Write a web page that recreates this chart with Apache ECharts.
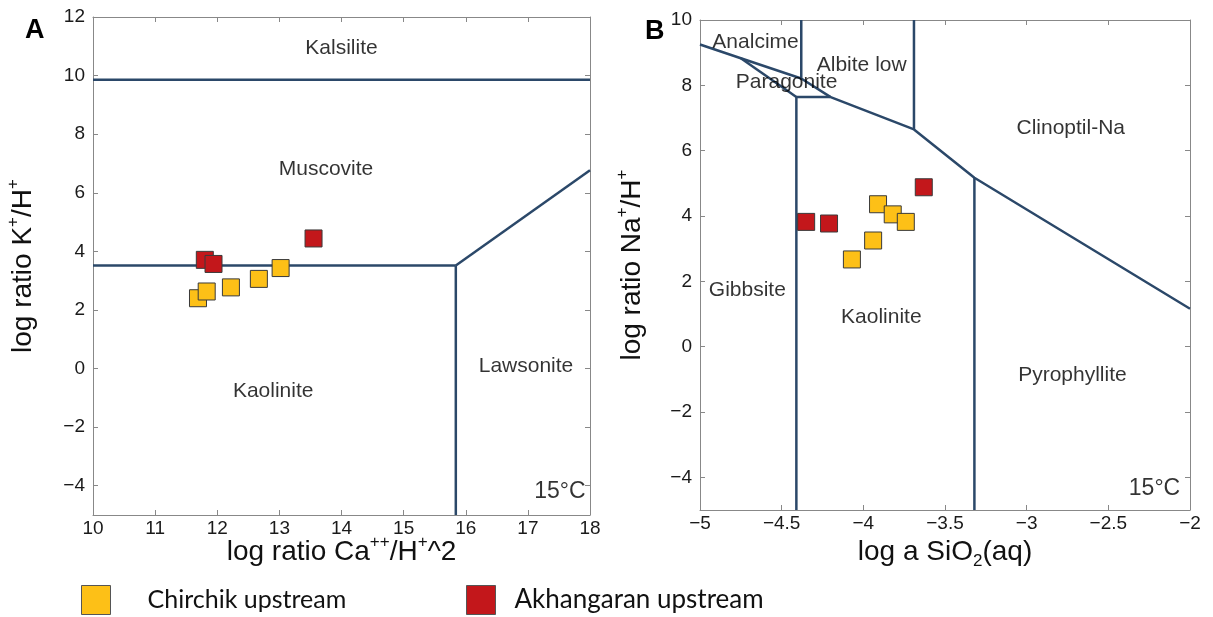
<!DOCTYPE html>
<html>
<head>
<meta charset="utf-8">
<script src="https://cdn.jsdelivr.net/npm/echarts@6/dist/echarts.min.js"></script>
<style>
  html, body { margin: 0; padding: 0; background: #fff; }
  #chart { width: 1213px; height: 617px; }
</style>
</head>
<body>
<div id="chart"></div>
<script>
// panel A: log K+/H+ against log Ca++/H+^2
const chirchikA = [[11.69, 2.40], [11.83, 2.63], [12.22, 2.77], [12.67, 3.06], [13.02, 3.43]];
const akhangaranA = [[11.80, 3.71], [11.94, 3.57], [13.55, 4.44]];
// panel B: log Na+/H+ against log a SiO2(aq)
const chirchikB = [[-4.07, 2.67], [-3.94, 3.25], [-3.91, 4.36], [-3.82, 4.05], [-3.74, 3.82]];
const akhangaranB = [[-4.35, 3.82], [-4.21, 3.77], [-3.63, 4.88]];

// stability field boundaries
const boundariesA = [
  [[10, 9.86], [18, 9.86]],
  [[10, 3.52], [15.84, 3.52]],
  [[15.84, 3.52], [15.84, -5]],
  [[15.84, 3.52], [18, 6.77]]
];
const boundariesB = [
  [[-5, 9.25], [-4.75, 8.83], [-4.38, 8.21]],
  [[-4.75, 8.83], [-4.41, 7.64]],
  [[-4.38, 10], [-4.38, 8.21], [-4.20, 7.64]],
  [[-4.41, -5], [-4.41, 7.64], [-4.20, 7.64], [-3.69, 6.65], [-3.32, 5.17], [-2, 1.16]],
  [[-3.69, 10], [-3.69, 6.65]],
  [[-3.32, 5.17], [-3.32, -5]]
];

const fieldNamesA = ['Kalsilite', 'Muscovite', 'Kaolinite', 'Lawsonite'];
const fieldPosA = [[14, 10.95], [13.75, 6.8], [12.9, -0.78], [16.97, 0.08]];
const fieldNamesB = ['Analcime', 'Albite low', 'Paragonite', 'Clinoptil-Na', 'Gibbsite', 'Kaolinite', 'Pyrophyllite'];
const fieldPosB = [[-4.66, 9.33], [-4.01, 8.62], [-4.47, 8.11], [-2.73, 6.68], [-4.71, 1.73], [-3.89, 0.89], [-2.72, -0.88]];

const xTicksA = [10, 11, 12, 13, 14, 15, 16, 17, 18];
const yTicksA = [-4, -2, 0, 2, 4, 6, 8, 10, 12];
const xTicksB = [-5, -4.5, -4, -3.5, -3, -2.5, -2];
const yTicksB = [-4, -2, 0, 2, 4, 6, 8, 10];

const seriesNames = ['Chirchik upstream', 'Akhangaran upstream'];
const colors = ['#FDC017', '#C3171B'];

const font = 'Liberation Sans';
const lineColor = '#2B4869';
const minus = v => String(v).replace('-', '\u2212');

const chart = echarts.init(document.getElementById('chart'));

function axis(kind, grid, min, max, ticks, pos, showLabel, name, gap) {
  const a = {
    type: 'value', gridIndex: grid, min: min, max: max, position: pos,
    splitLine: { show: false },
    axisLine: { show: true, onZero: false, lineStyle: { color: '#888', width: 1 } },
    axisTick: { show: true, inside: true, length: 5, customValues: ticks, lineStyle: { color: '#888' } },
    axisLabel: {
      show: showLabel, customValues: ticks, formatter: minus,
      color: '#1a1a1a', fontSize: 19, fontFamily: font, margin: kind === 'x' ? 4 : 8
    }
  };
  if (name) {
    a.name = name;
    a.nameLocation = 'middle';
    a.nameGap = gap;
    a.nameMoveOverlap = false;
    if (kind === 'y') a.nameRotate = 90;
    a.nameTextStyle = {
      rich: {
        n: { fontSize: 28, fontFamily: font, color: '#111', lineHeight: 36 },
        s: { fontSize: 17, fontFamily: font, color: '#111', lineHeight: 17, verticalAlign: 'top' },
        b: { fontSize: 17, fontFamily: font, color: '#111', lineHeight: 14, verticalAlign: 'bottom' }
      }
    };
  }
  return a;
}

function lineSeries(segs, x, y) {
  return segs.map(s => ({
    type: 'line', xAxisIndex: x, yAxisIndex: y, data: s, symbol: 'none', silent: true,
    lineStyle: { color: lineColor, width: 2.5 }, z: 2
  }));
}

function pointSeries(name, data, color, x, y) {
  return {
    type: 'scatter', name: name, xAxisIndex: x, yAxisIndex: y, data: data,
    symbol: 'rect', symbolSize: 17, z: 5,
    itemStyle: { color: color, borderColor: '#3a3a3a', borderWidth: 1, opacity: 1 }
  };
}

function labelSeries(names, pos, x, y, extra) {
  const data = names.map((n, i) => ({ name: n, value: pos[i] }));
  data.push(extra);
  return {
    type: 'scatter', xAxisIndex: x, yAxisIndex: y, data: data, symbolSize: 0, silent: true,
    label: { show: true, position: 'inside', formatter: '{b}', color: '#000', fontSize: 21, fontFamily: font }
  };
}

const tempLabel = (x, y) => ({
  name: '15°C', value: [x, y],
  label: { align: 'right', fontSize: 23 }
});

const legendBase = {
  top: 585, padding: 0, itemWidth: 29, itemHeight: 29, icon: 'rect', selectedMode: false,
  itemStyle: { borderColor: '#555', borderWidth: 1 }
};

chart.setOption({
  animation: false,
  title: [
    { text: 'A', left: 25, top: 17, padding: 0, textStyle: { fontSize: 27, fontWeight: 'bold', fontFamily: font, color: '#000' } },
    { text: 'B', left: 645, top: 18, padding: 0, textStyle: { fontSize: 27, fontWeight: 'bold', fontFamily: font, color: '#000' } }
  ],
  grid: [
    { left: 93, top: 17, width: 497, height: 498 },
    { left: 700, top: 20, width: 490, height: 490 }
  ],
  xAxis: [
    axis('x', 0, 10, 18, xTicksA, 'bottom', true, '{n|log ratio Ca}{s|++}{n|/H}{s|+}{n|^2}', 19),
    axis('x', 0, 10, 18, xTicksA, 'top', false),
    axis('x', 1, -5, -2, xTicksB, 'bottom', true, '{n|log a SiO}{b|2}{n|(aq)}', 24),
    axis('x', 1, -5, -2, xTicksB, 'top', false)
  ],
  yAxis: [
    axis('y', 0, -5, 12, yTicksA, 'left', true, '{n|log ratio K}{s|+}{n|/H}{s|+}', 52),
    axis('y', 0, -5, 12, yTicksA, 'right', false),
    axis('y', 1, -5, 10, yTicksB, 'left', true, '{n|log ratio Na}{s|+}{n|/H}{s|+}', 50),
    axis('y', 1, -5, 10, yTicksB, 'right', false)
  ],
  legend: [
    Object.assign({}, legendBase, {
      data: [seriesNames[0]], left: 81,
      textStyle: { fontFamily: 'Lato', fontSize: 25, color: '#111', padding: [0, 0, 0, 32] }
    }),
    Object.assign({}, legendBase, {
      data: [seriesNames[1]], left: 466,
      textStyle: { fontFamily: 'Lato', fontSize: 26, color: '#111', padding: [0, 0, 0, 14] }
    })
  ],
  series: [
    ...lineSeries(boundariesA, 0, 0),
    ...lineSeries(boundariesB, 2, 2),
    labelSeries(fieldNamesA, fieldPosA, 0, 0, tempLabel(17.93, -4.2)),
    labelSeries(fieldNamesB, fieldPosB, 2, 2, tempLabel(-2.06, -4.35)),
    pointSeries(seriesNames[0], chirchikA, colors[0], 0, 0),
    pointSeries(seriesNames[1], akhangaranA, colors[1], 0, 0),
    pointSeries(seriesNames[0], chirchikB, colors[0], 2, 2),
    pointSeries(seriesNames[1], akhangaranB, colors[1], 2, 2)
  ]
});

window.addEventListener('resize', () => chart.resize());
</script>
</body>
</html>
